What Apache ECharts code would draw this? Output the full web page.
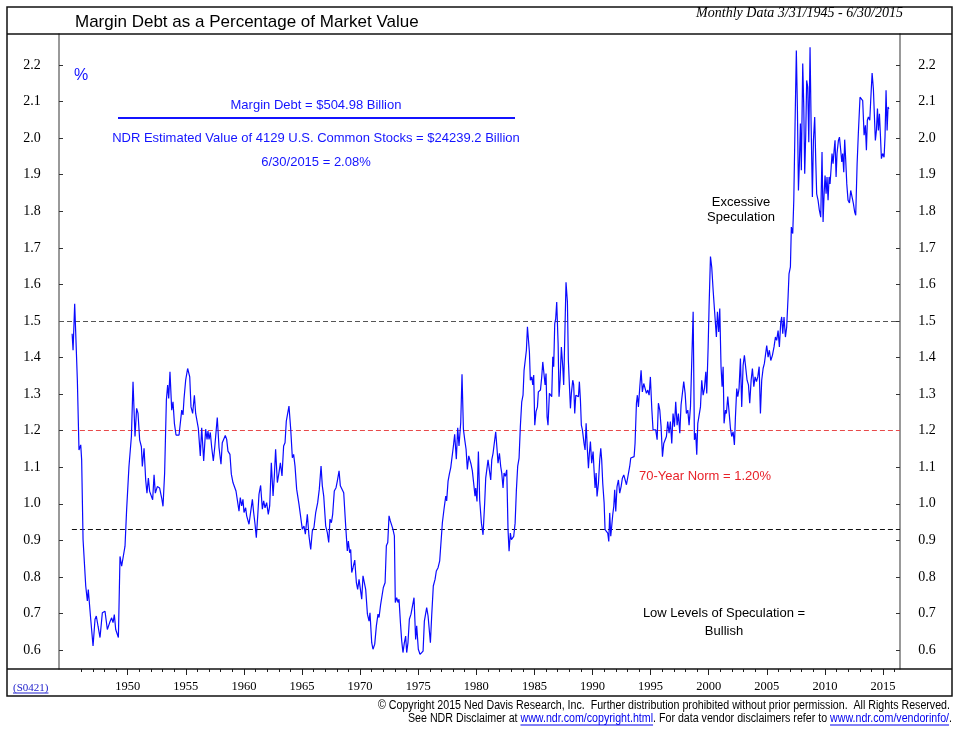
<!DOCTYPE html>
<html>
<head>
<meta charset="utf-8">
<script src="https://cdn.jsdelivr.net/npm/echarts@6/dist/echarts.min.js"></script>
<style>
html,body{margin:0;padding:0;background:#fff;}
#chart{width:967px;height:731px;}
</style>
</head>
<body>
<div id="chart"></div>
<script>
// Margin debt as % of market value, [decimal year, percent]
const era1945 = [[1945.22,1.465],[1945.30,1.42],[1945.44,1.547],[1945.52,1.475],[1945.67,1.338],[1945.81,1.147],[1945.96,1.161],[1946.04,1.12],[1946.16,0.902],[1946.39,0.775],[1946.53,0.734],[1946.61,0.765],[1946.82,0.684],[1947.02,0.611],[1947.19,0.684],[1947.30,0.693],[1947.45,0.665],[1947.62,0.634],[1947.82,0.702],[1948.05,0.706],[1948.25,0.656],[1948.45,0.675],[1948.62,0.688],[1948.74,0.675],[1948.85,0.697],[1948.97,0.656],[1949.05,0.652],[1949.20,0.634],[1949.34,0.856],[1949.48,0.829],[1949.63,0.829],[1949.77,0.884],[1949.91,0.984],[1950.11,1.102],[1950.32,1.184],[1950.46,1.334],[1950.63,1.184],[1950.77,1.261],[1950.89,1.247],[1951.03,1.175],[1951.18,1.156],[1951.26,1.102],[1951.41,1.152],[1951.55,1.065],[1951.66,1.029],[1951.78,1.07],[1951.89,1.034],[1952.04,1.038],[1952.15,1.011],[1952.27,1.079],[1952.38,1.029],[1952.55,1.047],[1952.75,1.043],[1952.93,1.015],[1953.04,0.993],[1953.18,1.084],[1953.33,1.284],[1953.44,1.325],[1953.53,1.288],[1953.64,1.361],[1953.79,1.256],[1953.90,1.279],[1954.02,1.22],[1954.16,1.188],[1954.30,1.184],[1954.42,1.188],[1954.53,1.184],[1954.65,1.256],[1954.76,1.243],[1954.85,1.288],[1954.99,1.338],[1955.16,1.37],[1955.34,1.347],[1955.45,1.265],[1955.59,1.247],[1955.74,1.297],[1955.85,1.247],[1955.97,1.252],[1956.08,1.206]];
const era1956 = [[1956.25,1.131],[1956.37,1.208],[1956.54,1.117],[1956.71,1.204],[1956.83,1.176],[1956.91,1.199],[1957.00,1.176],[1957.11,1.195],[1957.23,1.154],[1957.37,1.117],[1957.49,1.154],[1957.57,1.149],[1957.71,1.236],[1957.86,1.154],[1958.03,1.108],[1958.14,1.167],[1958.29,1.167],[1958.40,1.187],[1958.52,1.176],[1958.63,1.144],[1958.80,1.135],[1958.92,1.081],[1959.06,1.058],[1959.21,1.062],[1959.32,1.035],[1959.46,1.03],[1959.58,0.98],[1959.69,1.017],[1959.81,0.994],[1959.92,1.012],[1960.01,0.976],[1960.15,0.989],[1960.24,0.967],[1960.32,0.971],[1960.44,0.944],[1960.58,0.939],[1960.73,1.012],[1960.84,0.976],[1960.96,0.944],[1961.07,0.907],[1961.19,0.967],[1961.30,1.026],[1961.44,1.05],[1961.59,0.985],[1961.70,1.008],[1961.82,0.989],[1961.96,1.003],[1962.10,0.971],[1962.22,0.994],[1962.36,1.112],[1962.51,1.021],[1962.62,1.076],[1962.73,1.149],[1962.88,1.058],[1963.02,1.085],[1963.14,1.112],[1963.28,1.076],[1963.42,1.158],[1963.54,1.167],[1963.65,1.226],[1963.77,1.231],[1963.88,1.267],[1964.03,1.204],[1964.17,1.126],[1964.28,1.135],[1964.40,1.103],[1964.54,1.04],[1964.74,0.999],[1964.91,0.994],[1965.03,0.93],[1965.17,0.939],[1965.29,0.917],[1965.46,0.971],[1965.60,0.912],[1965.75,0.875],[1965.89,0.926],[1966.03,0.935],[1966.18,0.976],[1966.35,1.003],[1966.49,1.04],[1966.64,1.103],[1966.75,1.049],[1966.87,1.021],[1967.04,0.939],[1967.18,0.921],[1967.30,0.894],[1967.41,0.958],[1967.53,0.948],[1967.64,0.971],[1967.78,1.035],[1967.93,1.044]];
const era1968 = [[1968.04,1.062],[1968.19,1.09],[1968.30,1.049],[1968.47,1.044],[1968.59,1.03],[1968.76,0.939],[1968.90,0.871],[1968.99,0.898],[1969.10,0.866],[1969.19,0.875],[1969.28,0.812],[1969.39,0.825],[1969.54,0.846],[1969.68,0.784],[1969.79,0.766],[1969.91,0.793],[1970.02,0.793],[1970.14,0.739],[1970.25,0.803],[1970.37,0.804],[1970.48,0.766],[1970.63,0.698],[1970.77,0.679],[1970.85,0.702],[1971.00,0.62],[1971.11,0.602],[1971.26,0.616],[1971.40,0.666],[1971.54,0.698],[1971.63,0.689],[1971.77,0.725],[1971.92,0.73],[1972.00,0.771],[1972.15,0.784],[1972.26,0.885],[1972.38,0.894],[1972.49,0.967],[1972.60,0.953],[1972.72,0.956],[1972.83,0.93],[1972.95,0.912],[1973.03,0.73],[1973.15,0.743],[1973.26,0.73],[1973.35,0.739],[1973.47,0.675],[1973.58,0.625],[1973.69,0.593],[1973.81,0.62],[1973.92,0.638],[1974.01,0.593],[1974.12,0.62],[1974.24,0.684],[1974.38,0.698],[1974.50,0.702],[1974.64,0.743],[1974.78,0.629],[1974.87,0.666],[1975.01,0.602],[1975.16,0.588],[1975.30,0.588],[1975.42,0.597],[1975.53,0.679],[1975.65,0.675],[1975.73,0.716],[1975.85,0.693],[1975.96,0.689],[1976.05,0.62],[1976.16,0.693],[1976.30,0.775],[1976.45,0.793],[1976.56,0.816],[1976.71,0.825],[1976.85,0.844],[1976.96,0.848],[1977.08,0.948],[1977.22,0.985],[1977.37,1.021],[1977.45,1.008],[1977.57,1.062],[1977.68,1.081],[1977.80,1.099],[1977.91,1.103],[1978.03,1.158],[1978.14,1.19],[1978.28,1.122],[1978.40,1.208],[1978.51,1.158],[1978.66,1.222],[1978.77,1.354],[1978.89,1.204],[1979.00,1.176],[1979.12,1.149],[1979.23,1.094],[1979.35,1.131],[1979.46,1.135],[1979.55,1.108],[1979.66,1.09],[1979.78,1.094],[1979.89,1.021]];
const era1980 = [[1979.95,1.043],[1980.06,1.006],[1980.18,1.143],[1980.29,1.011],[1980.44,0.947],[1980.58,0.915],[1980.72,1.002],[1980.81,1.07],[1980.93,1.065],[1981.01,1.12],[1981.13,1.125],[1981.24,1.065],[1981.33,1.12],[1981.44,1.138],[1981.56,1.143],[1981.67,1.197],[1981.79,1.147],[1981.87,1.111],[1981.99,1.138],[1982.10,1.102],[1982.19,1.084],[1982.30,1.043],[1982.39,1.084],[1982.50,1.075],[1982.62,1.093],[1982.73,0.929],[1982.82,0.87],[1982.93,0.92],[1983.02,0.902],[1983.11,0.906],[1983.22,0.911],[1983.34,0.947],[1983.45,1.038],[1983.56,1.102],[1983.68,1.125],[1983.79,1.211],[1983.91,1.279],[1984.02,1.297],[1984.11,1.365],[1984.20,1.37],[1984.31,1.42],[1984.40,1.484],[1984.48,1.488],[1984.57,1.415],[1984.65,1.338],[1984.77,1.347],[1984.86,1.325],[1984.94,1.352],[1985.03,1.215],[1985.14,1.252],[1985.26,1.265],[1985.34,1.306],[1985.43,1.302],[1985.52,1.311],[1985.63,1.347],[1985.72,1.388],[1985.83,1.384],[1985.92,1.325],[1986.00,1.356],[1986.09,1.238],[1986.17,1.215],[1986.29,1.302],[1986.40,1.302],[1986.49,1.293],[1986.58,1.402],[1986.66,1.375],[1986.75,1.493],[1986.83,1.506],[1986.92,1.552],[1987.04,1.438],[1987.12,1.293],[1987.21,1.338],[1987.32,1.429],[1987.44,1.375],[1987.52,1.325],[1987.64,1.329],[1987.72,1.606],[1987.84,1.552],[1987.92,1.393],[1988.01,1.325],[1988.10,1.261],[1988.18,1.302],[1988.30,1.338],[1988.38,1.325],[1988.47,1.247],[1988.56,1.297],[1988.67,1.293],[1988.79,1.293],[1988.87,1.334],[1988.96,1.284],[1989.04,1.215],[1989.13,1.202],[1989.27,1.165],[1989.36,1.147],[1989.45,1.22],[1989.56,1.147],[1989.65,1.097],[1989.73,1.138],[1989.82,1.17],[1989.93,1.111],[1990.05,1.143],[1990.13,1.093],[1990.22,1.043],[1990.31,1.084],[1990.39,1.02],[1990.51,1.056],[1990.62,1.12],[1990.71,1.152],[1990.79,1.12],[1990.88,1.056],[1991.00,1.002],[1991.08,0.929],[1991.19,0.929],[1991.31,0.92],[1991.40,0.897],[1991.48,0.975],[1991.57,0.911],[1991.65,0.938],[1991.74,0.97],[1991.83,0.993],[1991.91,1.038]];
const era1992 = [[1992.00,0.979],[1992.11,1.047],[1992.23,1.065],[1992.34,1.029],[1992.46,1.047],[1992.57,1.07],[1992.69,1.079],[1992.80,1.075],[1992.92,1.052],[1993.09,1.047],[1993.20,1.102],[1993.29,1.125],[1993.43,1.129],[1993.58,1.129],[1993.66,1.165],[1993.78,1.275],[1993.86,1.297],[1993.95,1.265],[1994.07,1.32],[1994.18,1.365],[1994.29,1.306],[1994.41,1.329],[1994.52,1.334],[1994.64,1.302],[1994.75,1.311],[1994.87,1.297],[1994.98,1.347],[1995.10,1.261],[1995.21,1.202],[1995.33,1.197],[1995.44,1.202],[1995.56,1.175],[1995.67,1.275],[1995.79,1.256],[1995.90,1.211],[1996.02,1.129],[1996.13,1.165],[1996.25,1.17],[1996.36,1.184],[1996.47,1.225],[1996.59,1.193],[1996.70,1.225],[1996.82,1.165],[1996.93,1.247],[1997.05,1.211],[1997.16,1.279],[1997.28,1.215],[1997.39,1.247],[1997.51,1.193],[1997.62,1.27],[1997.74,1.27],[1997.85,1.334],[1997.97,1.302],[1998.08,1.247],[1998.20,1.256],[1998.31,1.215],[1998.43,1.265],[1998.54,1.261],[1998.66,1.525],[1998.77,1.175],[1998.88,1.193],[1998.97,1.134],[1999.06,1.22],[1999.17,1.215],[1999.29,1.265],[1999.40,1.338],[1999.52,1.297],[1999.63,1.315],[1999.75,1.361],[1999.83,1.302],[1999.95,1.429],[2000.03,1.538],[2000.15,1.676],[2000.26,1.647],[2000.38,1.584],[2000.46,1.547],[2000.58,1.552],[2000.66,1.456],[2000.75,1.525],[2000.86,1.47],[2000.95,1.534],[2001.06,1.375],[2001.15,1.32],[2001.24,1.375],[2001.32,1.22],[2001.44,1.256],[2001.52,1.247],[2001.64,1.293],[2001.75,1.252],[2001.87,1.206],[2001.98,1.184],[2002.10,1.197],[2002.21,1.161],[2002.30,1.238],[2002.41,1.315],[2002.50,1.293],[2002.61,1.315],[2002.73,1.397],[2002.84,1.265],[2002.96,1.379],[2003.07,1.406],[2003.19,1.406],[2003.30,1.338],[2003.42,1.325],[2003.53,1.275],[2003.65,1.338],[2003.76,1.37],[2003.88,1.32],[2003.99,1.347],[2004.11,1.334],[2004.22,1.347],[2004.34,1.375],[2004.45,1.247],[2004.56,1.338],[2004.68,1.37],[2004.79,1.384],[2004.91,1.384]];
const era2005 = [[2004.99,1.433],[2005.11,1.401],[2005.22,1.42],[2005.34,1.392],[2005.48,1.406],[2005.62,1.429],[2005.74,1.456],[2005.85,1.447],[2005.97,1.474],[2006.08,1.429],[2006.20,1.497],[2006.28,1.511],[2006.37,1.465],[2006.48,1.511],[2006.60,1.456],[2006.71,1.484],[2006.83,1.566],[2006.91,1.629],[2007.03,1.648],[2007.11,1.757],[2007.23,1.739],[2007.32,1.83],[2007.43,2.04],[2007.54,2.24],[2007.63,2.085],[2007.72,1.857],[2007.80,1.93],[2007.89,2.04],[2007.97,1.912],[2008.09,2.204],[2008.18,2.085],[2008.26,1.903],[2008.35,2.012],[2008.43,2.158],[2008.52,2.14],[2008.61,1.989],[2008.72,2.249],[2008.81,2.04],[2008.92,1.839],[2009.01,1.994],[2009.12,2.058],[2009.21,1.939],[2009.29,1.848],[2009.41,1.83],[2009.52,1.803],[2009.64,1.784],[2009.75,1.962],[2009.84,1.771],[2009.93,1.848],[2010.01,1.898],[2010.10,1.848],[2010.18,1.894],[2010.27,1.83],[2010.36,1.894],[2010.44,1.875],[2010.53,1.917],[2010.61,1.958],[2010.70,1.93],[2010.79,1.967],[2010.87,1.994],[2010.96,1.894],[2011.04,1.958],[2011.16,1.994],[2011.25,2.003],[2011.36,1.967],[2011.45,1.935],[2011.53,1.958],[2011.62,1.907],[2011.70,1.996],[2011.79,1.939],[2011.88,1.875],[2011.99,1.83],[2012.11,1.823],[2012.22,1.857],[2012.34,1.853],[2012.45,1.821],[2012.56,1.798],[2012.65,1.789],[2012.77,1.93],[2012.88,2.017],[2012.97,2.021],[2013.02,2.112],[2013.14,2.112],[2013.25,2.103],[2013.37,2.008],[2013.48,2.035],[2013.57,1.967],[2013.65,2.049],[2013.74,2.058],[2013.86,2.049],[2013.94,2.103],[2014.06,2.178],[2014.17,2.135],[2014.26,2.058],[2014.34,1.994],[2014.43,2.021],[2014.52,2.081],[2014.60,2.021],[2014.69,2.067],[2014.77,2.012],[2014.86,1.944],[2014.97,1.958],[2015.09,1.948],[2015.17,2.003],[2015.26,2.131],[2015.35,2.021],[2015.43,2.085],[2015.50,2.08]];

const yTicks = [0.6,0.7,0.8,0.9,1.0,1.1,1.2,1.3,1.4,1.5,1.6,1.7,1.8,1.9,2.0,2.1,2.2];
const yearLabels = [1950,1955,1960,1965,1970,1975,1980,1985,1990,1995,2000,2005,2010,2015];
const minorYears = [];
for (let y = 1946; y <= 2016; y++) minorYears.push(y);
const upperLevel = 1.50, normLevel = 1.20, lowerLevel = 0.93;

const X_MIN = 1944.09, X_MAX = 2016.46, Y_MIN = 0.548, Y_MAX = 2.285;
const series = [].concat(era1945, era1956, era1968, era1980, era1992, era2005);

const chart = echarts.init(document.getElementById('chart'), null, {renderer: 'canvas'});

const measureCtx = document.createElement('canvas').getContext('2d');
function textW(s, font) { measureCtx.font = font; return measureCtx.measureText(s).width; }

const SANS = '"Liberation Sans", Arial, sans-serif';
const SERIF = '"Liberation Serif", "Times New Roman", serif';
const graphics = [];

function txt(x, y, s, opt) {
  opt = opt || {};
  graphics.push({
    type: 'text', x: x, y: y, scaleX: opt.scaleX || 1, silent: true, z: 100,
    style: {
      text: s, x: 0, y: 0, font: opt.font || ('13px ' + SANS), fill: opt.fill || '#000',
      textAlign: opt.align || 'left', textVerticalAlign: 'middle',
      align: opt.align || 'left', verticalAlign: 'middle'
    }
  });
}
function hline(x1, x2, y, color, w) {
  graphics.push({type: 'line', silent: true, z: 100, shape: {x1: x1, y1: y, x2: x2, y2: y}, style: {stroke: color, lineWidth: w}});
}
function row(segments, rightX, y, font, scale) {
  const widths = segments.map(s => textW(s.t, font) * scale);
  let x = rightX - widths.reduce((a, b) => a + b, 0);
  segments.forEach((s, i) => {
    txt(x, y, s.t, {font: font, fill: s.link ? '#0000ee' : '#000', scaleX: scale});
    if (s.link) hline(x, x + widths[i], y + 6, '#0000ee', 1);
    x += widths[i];
  });
}

// frame
graphics.push({type: 'rect', silent: true, z: 99, shape: {x: 7, y: 7, width: 945, height: 689}, style: {fill: 'none', stroke: '#111', lineWidth: 1.5}});
hline(7, 952, 34, '#111', 1.5);
hline(7, 952, 669, '#111', 1.5);

// header
txt(75, 22, 'Margin Debt as a Percentage of Market Value', {font: '17px ' + SANS});
txt(903, 13, 'Monthly Data 3/31/1945 - 6/30/2015', {font: 'italic 14px ' + SERIF, align: 'right'});

// annotations
const BLUE = '#1414ff';
txt(74, 76, '%', {font: '16px ' + SANS, fill: BLUE});
txt(316, 105, 'Margin Debt = $504.98 Billion', {font: '13px ' + SANS, fill: BLUE, align: 'center'});
hline(118, 515, 118, BLUE, 2);
txt(316, 138, 'NDR Estimated Value of 4129 U.S. Common Stocks = $24239.2 Billion', {font: '13px ' + SANS, fill: BLUE, align: 'center'});
txt(316, 162, '6/30/2015 = 2.08%', {font: '13px ' + SANS, fill: BLUE, align: 'center'});
txt(741, 202, 'Excessive', {font: '13px ' + SANS, align: 'center'});
txt(741, 217, 'Speculation', {font: '13px ' + SANS, align: 'center'});
txt(639, 476, '70-Year Norm = 1.20%', {font: '13px ' + SANS, fill: '#e8232a'});
txt(724, 613, 'Low Levels of Speculation =', {font: '13px ' + SANS, align: 'center'});
txt(724, 631, 'Bullish', {font: '13px ' + SANS, align: 'center'});

// code label bottom-left
const codeFont = '11px ' + SERIF;
txt(13, 688, '(S0421)', {font: codeFont, fill: '#2222cc'});
hline(13, 13 + textW('(S0421)', codeFont), 693, '#2222cc', 1);

// footer
const footFont = '12px ' + SANS;
const foot1 = '\u00A9 Copyright 2015 Ned Davis Research, Inc.  Further distribution prohibited without prior permission.  All Rights Reserved.';
const footScale = 572 / textW(foot1, footFont);
row([{t: foot1}], 950, 706, footFont, footScale);
row([{t: 'See NDR Disclaimer at '}, {t: 'www.ndr.com/copyright.html', link: true}, {t: '. For data vendor disclaimers refer to '}, {t: 'www.ndr.com/vendorinfo/', link: true}, {t: '.'}], 952, 719, footFont, footScale);

function refLine(x0, level, color, width) {
  return [{coord: [x0, level], lineStyle: {color: color, width: width, type: [5, 3]}}, {coord: [X_MAX, level]}];
}

const yAxisBase = {
  type: 'value', min: Y_MIN, max: Y_MAX,
  axisLine: {show: true, lineStyle: {color: '#777', width: 1.5}},
  axisTick: {show: true, inside: true, length: 4, customValues: yTicks, lineStyle: {color: '#333', width: 1}},
  axisLabel: {show: true, customValues: yTicks, formatter: v => v.toFixed(1), fontFamily: 'Liberation Serif', fontSize: 14, color: '#000', align: 'center', margin: 27},
  splitLine: {show: false}
};

chart.setOption({
  animation: false,
  backgroundColor: '#fff',
  grid: {left: 59, right: 67, top: 34, bottom: 62, containLabel: false, outerBoundsMode: 'none'},
  xAxis: [
    {type: 'value', min: X_MIN, max: X_MAX, position: 'bottom',
     axisLine: {show: false},
     axisTick: {show: true, length: 3, customValues: minorYears, lineStyle: {color: '#222'}},
     axisLabel: {show: false}, splitLine: {show: false}},
    {type: 'value', min: X_MIN, max: X_MAX, position: 'bottom',
     axisLine: {show: false},
     axisTick: {show: true, length: 6, customValues: yearLabels, lineStyle: {color: '#222'}},
     axisLabel: {show: true, customValues: yearLabels, formatter: v => String(Math.round(v)), fontFamily: 'Liberation Serif', fontSize: 12.5, color: '#000', margin: 11},
     splitLine: {show: false}}
  ],
  yAxis: [
    Object.assign({}, yAxisBase, {position: 'left'}),
    Object.assign({}, yAxisBase, {position: 'right'})
  ],
  series: [{
    type: 'line', xAxisIndex: 0, yAxisIndex: 0, data: series,
    showSymbol: false, symbol: 'none', smooth: false,
    lineStyle: {color: '#0a0aff', width: 1.2},
    z: 5,
    markLine: {
      silent: true, symbol: 'none', label: {show: false}, animation: false,
      data: [
        refLine(X_MIN, upperLevel, '#555', 1.2),
        refLine(1945.2, normLevel, '#e84a4a', 1.1),
        refLine(1945.2, lowerLevel, '#111', 1.1)
      ]
    }
  }],
  graphic: graphics
});
</script>
</body>
</html>
